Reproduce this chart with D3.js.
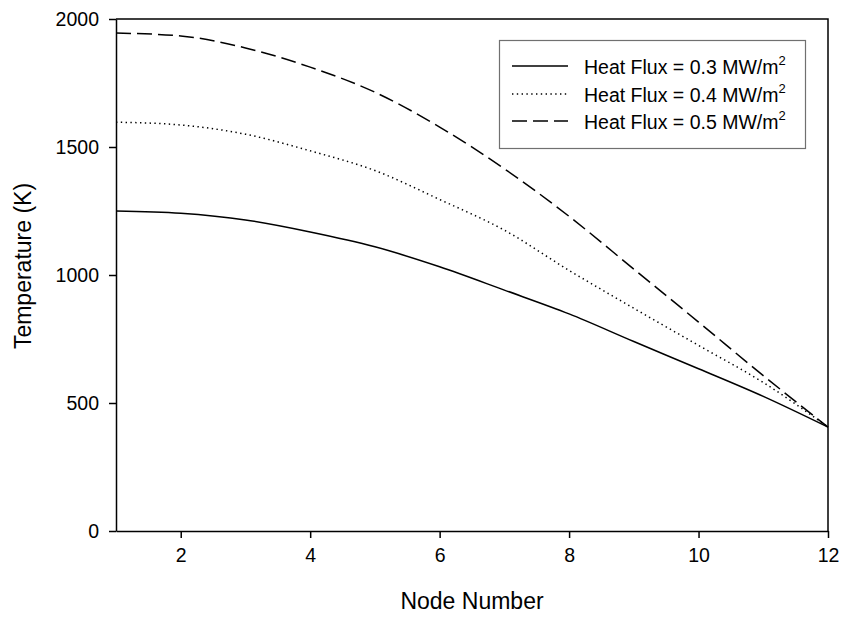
<!DOCTYPE html>
<html>
<head>
<meta charset="utf-8">
<script src="https://cdn.jsdelivr.net/npm/d3@7"></script>
<style>
  body { margin: 0; background: #fff; }
  svg { font-family: "Liberation Sans", Arial, sans-serif; }
</style>
</head>
<body>
<div id="chart"></div>
<script>
// node numbers along the wall
const nodes = [1, 2, 3, 4, 5, 6, 7, 8, 9, 10, 11, 12];

// temperature (K) per node, one array per heat flux
const flux03 = [1250, 1241, 1215, 1168, 1110, 1032, 941, 848, 740, 634, 526, 406];
const flux04 = [1597, 1586, 1550, 1485, 1408, 1295, 1175, 1018, 870, 725, 580, 406];
const flux05 = [1945, 1934, 1887, 1812, 1714, 1578, 1415, 1229, 1023, 816, 607, 406];

const seriesNames = ['Heat Flux = 0.3 MW/m', 'Heat Flux = 0.4 MW/m', 'Heat Flux = 0.5 MW/m'];
const xTicks = [2, 4, 6, 8, 10, 12];
const yTicks = [0, 500, 1000, 1500, 2000];

const W = 845, H = 619;
const margin = { top: 19, right: 17, bottom: 88, left: 116 };
const innerW = W - margin.left - margin.right;
const innerH = H - margin.top - margin.bottom;

const svg = d3.select('#chart').append('svg')
  .attr('width', W)
  .attr('height', H);

const g = svg.append('g')
  .attr('transform', 'translate(' + margin.left + ',' + margin.top + ')');

const x = d3.scaleLinear().domain([1, 12]).range([0, innerW]);
const y = d3.scaleLinear().domain([0, 2000]).range([innerH, 0]);

// frame top / right
g.append('path')
  .attr('d', 'M0,0H' + innerW + 'V' + innerH)
  .attr('fill', 'none')
  .attr('stroke', '#000')
  .attr('stroke-width', 1.5);

/* x axis */
const xAxis = g.append('g')
  .attr('transform', 'translate(0,' + innerH + ')')
  .call(d3.axisBottom(x).tickValues(xTicks).tickFormat(d3.format('d'))
    .tickSize(7).tickPadding(10).tickSizeOuter(0));

/* y axis */
const yAxis = g.append('g')
  .call(d3.axisLeft(y).tickValues(yTicks).tickFormat(d3.format('d'))
    .tickSize(7).tickPadding(10).tickSizeOuter(0));

[xAxis, yAxis].forEach(a => {
  a.select('.domain').attr('stroke-width', 1.5);
  a.selectAll('.tick line').attr('stroke-width', 1.5);
  a.selectAll('.tick text')
    .attr('font-size', 19.5)
    .attr('fill', '#000')
    .style('font-family', '"Liberation Sans", Arial, sans-serif');
});

// axis titles
svg.append('text')
  .attr('x', margin.left + innerW / 2)
  .attr('y', 609)
  .attr('text-anchor', 'middle')
  .attr('font-size', 23)
  .text('Node Number');

svg.append('text')
  .attr('transform', 'translate(31,266) rotate(-90)')
  .attr('text-anchor', 'middle')
  .attr('font-size', 23)
  .text('Temperature (K)');

// lines
const styles = [
  { data: flux03, dash: null },
  { data: flux04, dash: '1.4,3.4' },
  { data: flux05, dash: '15,6' }
];

const line = d3.line()
  .x((d, i) => x(nodes[i]))
  .y(d => y(d))
  .curve(d3.curveMonotoneX);

styles.forEach(s => {
  g.append('path')
    .datum(s.data)
    .attr('d', line)
    .attr('fill', 'none')
    .attr('stroke', '#000')
    .attr('stroke-width', 1.5)
    .attr('stroke-dasharray', s.dash);
});

// legend
const legend = svg.append('g');
legend.append('rect')
  .attr('x', 499.5).attr('y', 40.5)
  .attr('width', 306).attr('height', 108)
  .attr('fill', '#fff')
  .attr('stroke', '#707070')
  .attr('stroke-width', 1.2);

const rowY = [66, 94, 121];
styles.forEach((s, i) => {
  legend.append('line')
    .attr('x1', 512).attr('x2', 568)
    .attr('y1', rowY[i]).attr('y2', rowY[i])
    .attr('stroke', '#000')
    .attr('stroke-width', 1.5)
    .attr('stroke-dasharray', s.dash);
  const t = legend.append('text')
    .attr('x', 584)
    .attr('y', rowY[i] + 8)
    .attr('font-size', 19.5)
    .text(seriesNames[i]);
  t.append('tspan')
    .attr('dy', -9)
    .attr('font-size', 13)
    .text('2');
});
</script>
</body>
</html>
